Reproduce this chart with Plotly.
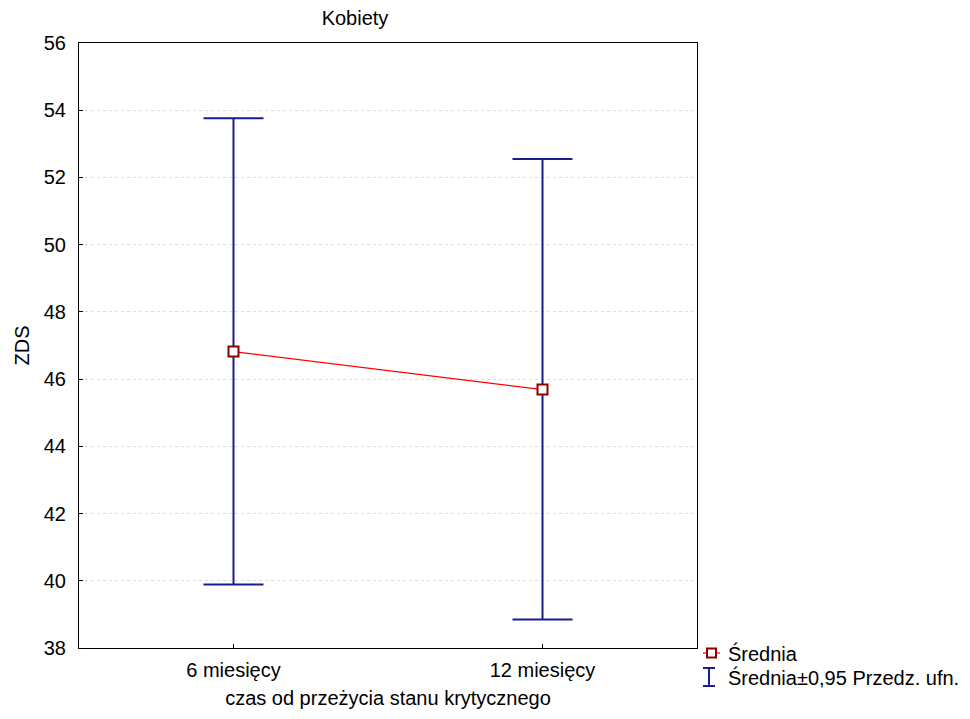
import plotly.graph_objects as go

categories = ["6 miesięcy", "12 miesięcy"]
means = [46.82, 45.69]
upper = [53.76, 52.55]
lower = [39.89, 38.85]
legend_labels = ["Średnia", "Średnia±0,95 Przedz. ufn."]

err_plus = [u - m for u, m in zip(upper, means)]
err_minus = [m - l for m, l in zip(means, lower)]

FONT = "Liberation Sans, Arial, sans-serif"
FS = 20
NAVY = "#1c1c8c"
DARKRED = "#8b0000"

# plot area in pixels
L, R, T, B = 79, 697, 43, 648
W, H = 970, 719


def px(x):
    return (x - L) / (R - L)


def py(y):
    return (B - y) / (B - T)


fig = go.Figure()
fig.add_trace(go.Scatter(
    x=categories, y=means, mode="markers",
    marker=dict(size=0.1, color="rgba(0,0,0,0)"),
    error_y=dict(type="data", symmetric=False, array=err_plus, arrayminus=err_minus,
                 color=NAVY, thickness=2, width=30),
    name=legend_labels[1], showlegend=False, hoverinfo="skip",
))
fig.add_trace(go.Scatter(
    x=categories, y=means, mode="lines+markers",
    line=dict(color="#ff0000", width=1.2),
    marker=dict(symbol="square", size=10, color="white",
                line=dict(color=DARKRED, width=2)),
    name=legend_labels[0], showlegend=False,
))

# manual legend (outside plot, lower right)
row1, row2 = 653, 677
shapes = [
    dict(type="line", xref="paper", yref="paper", x0=px(703), x1=px(720), y0=py(row1), y1=py(row1),
         line=dict(color="#ff0000", width=1.2)),
    dict(type="rect", xref="paper", yref="paper", x0=px(707), x1=px(716), y0=py(row1 - 4.5), y1=py(row1 + 4.5),
         fillcolor="white", line=dict(color=DARKRED, width=2)),
    dict(type="line", xref="paper", yref="paper", x0=px(709), x1=px(709), y0=py(row2 - 9), y1=py(row2 + 9),
         line=dict(color=NAVY, width=2)),
    dict(type="line", xref="paper", yref="paper", x0=px(703), x1=px(715), y0=py(row2 - 9), y1=py(row2 - 9),
         line=dict(color=NAVY, width=2)),
    dict(type="line", xref="paper", yref="paper", x0=px(703), x1=px(715), y0=py(row2 + 9), y1=py(row2 + 9),
         line=dict(color=NAVY, width=2)),
]
annotations = [
    dict(text=legend_labels[0], xref="paper", yref="paper", x=px(726), y=py(row1),
         xanchor="left", yanchor="middle", showarrow=False, font=dict(size=FS)),
    dict(text=legend_labels[1], xref="paper", yref="paper", x=px(726), y=py(row2),
         xanchor="left", yanchor="middle", showarrow=False, font=dict(size=FS)),
]

fig.update_layout(
    width=W, height=H,
    margin=dict(l=L, r=W - R, t=T, b=H - B),
    paper_bgcolor="white", plot_bgcolor="white",
    font=dict(family=FONT, size=FS, color="black"),
    showlegend=False,
    shapes=shapes, annotations=annotations,
    title=dict(text="Kobiety", x=355 / W, xanchor="center", y=1 - 18 / H, yanchor="middle",
               font=dict(size=FS)),
)
fig.update_xaxes(
    type="category", range=[-0.5, 1.5], showline=True, linecolor="black", linewidth=1,
    mirror=True, ticks="inside", ticklen=4, tickcolor="black", showgrid=False,
    tickfont=dict(size=FS), ticklabelstandoff=4,
    title=dict(text="czas od przeżycia stanu krytycznego", standoff=10, font=dict(size=FS)),
    zeroline=False,
)
fig.update_yaxes(
    range=[38, 56], dtick=2, tick0=38, showline=True, linecolor="black", linewidth=1,
    mirror=True, ticks="inside", ticklen=4, tickcolor="black",
    tickfont=dict(size=FS), ticklabelstandoff=8,
    showgrid=True, gridcolor="#dcdcdc", griddash="dot", gridwidth=1,
    title=dict(text="ZDS", standoff=8, font=dict(size=FS)), zeroline=False,
)

fig.write_html("out.html")
